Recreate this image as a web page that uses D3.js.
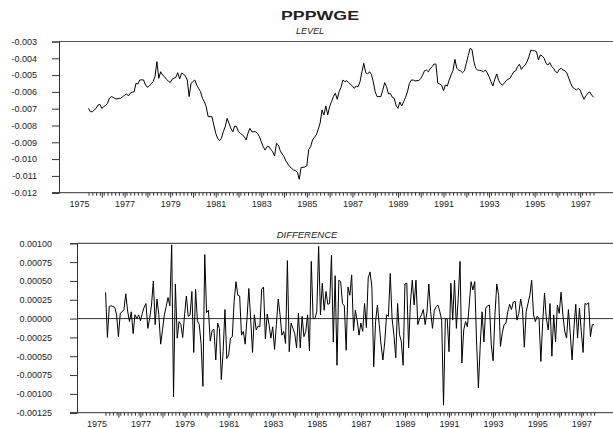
<!DOCTYPE html>
<html>
<head>
<meta charset="utf-8">
<script src="https://cdn.jsdelivr.net/npm/d3@7"></script>
<style>
  html, body { margin: 0; padding: 0; background: #fff; }
  svg { display: block; }
  text { font-family: "Liberation Sans", Arial, Helvetica, sans-serif; fill: #222; }
</style>
</head>
<body>
<svg id="chart" width="613" height="428"></svg>
<script>
// ---- data (monthly, first observation June 1975) ----
const startYear = 1975;
const startMonth = 5; // 0-based: June
const title = "PPPWGE";
const panelTitles = ["LEVEL", "DIFFERENCE"];
const yearLabels = [1975, 1977, 1979, 1981, 1983, 1985, 1987, 1989, 1991, 1993, 1995, 1997];
const levelTicks = [-0.003, -0.004, -0.005, -0.006, -0.007, -0.008, -0.009, -0.010, -0.011, -0.012];
const diffTicks = [0.001, 0.00075, 0.0005, 0.00025, 0, -0.00025, -0.0005, -0.00075, -0.001, -0.00125];

const level = [
-0.00698,-0.00718,-0.00718,-0.00708,-0.00698,-0.00678,-0.00674,-0.00698,-0.00688,-0.00680,
-0.00668,-0.00638,-0.00628,-0.00632,-0.00640,-0.00642,-0.00638,-0.00638,-0.00628,-0.00620,
-0.00612,-0.00624,-0.00608,-0.00602,-0.00599,-0.00549,-0.00553,-0.00529,-0.00528,-0.00529,
-0.00559,-0.00573,-0.00565,-0.00552,-0.00539,-0.00509,-0.00420,-0.00519,-0.00480,-0.00500,
-0.00509,-0.00525,-0.00535,-0.00545,-0.00525,-0.00519,-0.00513,-0.00486,-0.00523,-0.00489,
-0.00493,-0.00505,-0.00529,-0.00628,-0.00549,-0.00539,-0.00529,-0.00559,-0.00579,-0.00599,
-0.00638,-0.00658,-0.00688,-0.00747,-0.00747,-0.00747,-0.00797,-0.00846,-0.00876,-0.00890,
-0.00876,-0.00837,-0.00807,-0.00757,-0.00787,-0.00817,-0.00837,-0.00803,-0.00807,-0.00837,
-0.00847,-0.00856,-0.00866,-0.00886,-0.00846,-0.00817,-0.00837,-0.00837,-0.00837,-0.00847,
-0.00866,-0.00896,-0.00926,-0.00946,-0.00926,-0.00926,-0.00942,-0.00956,-0.00982,-0.00906,
-0.00916,-0.00950,-0.00970,-0.00986,-0.01012,-0.01029,-0.01045,-0.01055,-0.01065,-0.01069,
-0.01078,-0.01120,-0.01049,-0.01049,-0.01047,-0.01040,-0.00942,-0.00926,-0.00886,-0.00870,
-0.00856,-0.00823,-0.00785,-0.00708,-0.00737,-0.00684,-0.00737,-0.00688,-0.00658,-0.00628,
-0.00608,-0.00644,-0.00599,-0.00573,-0.00529,-0.00539,-0.00533,-0.00545,-0.00555,-0.00565,
-0.00579,-0.00565,-0.00570,-0.00540,-0.00480,-0.00430,-0.00486,-0.00493,-0.00480,-0.00495,
-0.00540,-0.00599,-0.00628,-0.00628,-0.00628,-0.00589,-0.00545,-0.00569,-0.00612,-0.00610,
-0.00632,-0.00638,-0.00680,-0.00698,-0.00660,-0.00684,-0.00658,-0.00632,-0.00600,-0.00550,
-0.00530,-0.00529,-0.00535,-0.00533,-0.00533,-0.00520,-0.00500,-0.00474,-0.00470,-0.00480,
-0.00462,-0.00450,-0.00434,-0.00435,-0.00549,-0.00553,-0.00560,-0.00593,-0.00559,-0.00565,
-0.00529,-0.00499,-0.00472,-0.00406,-0.00460,-0.00470,-0.00475,-0.00486,-0.00475,-0.00430,
-0.00385,-0.00341,-0.00348,-0.00420,-0.00460,-0.00470,-0.00472,-0.00474,-0.00480,-0.00470,
-0.00486,-0.00509,-0.00539,-0.00565,-0.00525,-0.00493,-0.00530,-0.00550,-0.00559,-0.00549,
-0.00533,-0.00525,-0.00519,-0.00500,-0.00480,-0.00475,-0.00450,-0.00435,-0.00466,-0.00450,
-0.00440,-0.00420,-0.00390,-0.00351,-0.00355,-0.00355,-0.00361,-0.00410,-0.00380,-0.00386,
-0.00400,-0.00430,-0.00440,-0.00426,-0.00450,-0.00460,-0.00480,-0.00486,-0.00465,-0.00460,
-0.00470,-0.00474,-0.00489,-0.00519,-0.00549,-0.00573,-0.00580,-0.00589,-0.00579,-0.00589,
-0.00618,-0.00644,-0.00624,-0.00608,-0.00600,-0.00618,-0.00632
];

const diff = [
0.00035,-0.00025,0.00016,0.00017,0.00016,0.00015,0.00005,-0.00024,0.00007,0.00009,
0.00012,0.00033,0.00010,-0.00004,0.00009,-0.00020,0.00005,0.00000,0.00005,-0.00003,
0.00007,0.00015,0.00020,-0.00013,0.00000,0.00018,0.00050,-0.00008,0.00026,0.00005,
-0.00034,-0.00015,0.00005,0.00016,0.00028,0.00017,0.00098,-0.00104,0.00046,-0.00026,
-0.00004,-0.00008,-0.00025,0.00005,0.00030,0.00003,0.00005,0.00036,-0.00045,0.00039,
-0.00003,-0.00008,-0.00033,-0.00090,0.00085,0.00008,0.00011,-0.00030,-0.00016,-0.00014,
-0.00055,-0.00006,-0.00013,-0.00081,-0.00044,0.00012,-0.00053,-0.00048,-0.00026,-0.00024,
0.00023,0.00049,0.00031,0.00030,-0.00022,-0.00017,-0.00034,0.00000,0.00040,0.00000,
-0.00045,0.00005,-0.00015,-0.00010,-0.00011,0.00039,0.00042,-0.00027,0.00006,-0.00008,
-0.00026,-0.00011,-0.00041,-0.00008,0.00026,0.00005,-0.00022,-0.00017,-0.00033,0.00077,
-0.00044,-0.00006,-0.00013,-0.00020,-0.00039,0.00007,-0.00039,0.00003,-0.00024,-0.00017,
0.00005,-0.00043,0.00076,0.00000,0.00000,0.00009,0.00096,0.00005,0.00047,0.00011,
0.00036,0.00019,0.00020,0.00084,-0.00031,0.00057,-0.00062,0.00051,0.00049,0.00020,
0.00017,-0.00042,0.00042,0.00031,0.00058,-0.00016,0.00011,-0.00003,-0.00022,-0.00006,
-0.00017,0.00020,-0.00012,0.00054,0.00062,0.00042,-0.00064,-0.00004,0.00018,-0.00008,
-0.00035,-0.00055,-0.00031,0.00005,0.00003,0.00060,0.00000,-0.00022,-0.00052,0.00020,
-0.00021,-0.00030,-0.00062,0.00046,0.00047,-0.00039,0.00022,0.00051,0.00018,0.00051,
-0.00008,0.00000,0.00005,0.00012,-0.00008,0.00009,0.00046,0.00009,-0.00013,0.00011,
0.00016,0.00018,0.00009,-0.00002,-0.00115,0.00000,0.00000,-0.00044,0.00047,-0.00002,
0.00051,-0.00013,0.00027,0.00076,-0.00059,-0.00015,-0.00004,-0.00011,0.00018,0.00049,
0.00038,0.00049,-0.00031,-0.00092,-0.00035,0.00009,-0.00031,0.00014,0.00017,0.00018,
-0.00035,-0.00056,0.00005,0.00046,0.00031,-0.00037,-0.00019,-0.00008,-0.00006,0.00009,
0.00019,0.00012,0.00022,0.00023,-0.00002,0.00007,0.00026,0.00012,-0.00038,0.00009,
0.00020,0.00031,0.00051,0.00005,-0.00004,0.00003,0.00000,-0.00057,-0.00005,0.00034,
0.00000,-0.00015,0.00020,-0.00050,0.00005,-0.00031,0.00018,0.00007,0.00035,0.00005,
-0.00017,-0.00026,0.00012,-0.00020,-0.00055,-0.00013,0.00019,-0.00026,0.00014,-0.00017,
-0.00045,0.00020,0.00019,0.00021,-0.00024,-0.00008,-0.00008
];

// ---- drawing ----
const W = 613, H = 428;
const svg = d3.select("#chart");
svg.append("rect").attr("width", W).attr("height", H).attr("fill", "#fff");

const loc = d3.formatLocale({decimal: ".", thousands: ",", grouping: [3], currency: ["", ""], minus: "-"});
const timeOf = i => startYear + (startMonth + i) / 12;
const xDomain = [1974.12, 1998.44];

svg.append("text")
  .attr("x", 320).attr("y", 19.5)
  .attr("text-anchor", "middle")
  .attr("font-size", 13).attr("font-weight", "bold")
  .attr("textLength", 78).attr("lengthAdjust", "spacingAndGlyphs")
  .text(title);

function panel(cfg) {
  const g = svg.append("g");
  const x = d3.scaleLinear().domain(xDomain).range([cfg.left, W]);
  const y = d3.scaleLinear().domain(cfg.yDomain).range([cfg.bottom, cfg.top]);
  const axisColor = "#333";

  // subtitle
  g.append("text")
    .attr("x", cfg.subX).attr("y", cfg.subY)
    .attr("text-anchor", "middle")
    .attr("font-size", cfg.subSize).attr("font-style", "italic")
    .text(cfg.subtitle);

  // top frame line
  g.append("line")
    .attr("x1", cfg.left).attr("x2", W)
    .attr("y1", y(cfg.yDomain[1])).attr("y2", y(cfg.yDomain[1]))
    .attr("stroke", "#555").attr("stroke-width", 1.2);

  // y axis
  const yAxis = d3.axisLeft(y)
    .tickValues(cfg.yTicks)
    .tickSize(7)
    .tickPadding(cfg.yPad)
    .tickFormat(loc.format(cfg.fmt));
  const ya = g.append("g").attr("transform", `translate(${cfg.left},0)`).call(yAxis);
  ya.select(".domain").attr("stroke", axisColor);
  ya.selectAll(".tick line").attr("stroke", axisColor);
  ya.selectAll("text").attr("font-size", 9).attr("fill", "#222")
    .attr("font-family", "'Liberation Sans', Arial, sans-serif");

  // x axis baseline
  g.append("line")
    .attr("x1", cfg.left - 7).attr("x2", W)
    .attr("y1", cfg.bottom).attr("y2", cfg.bottom)
    .attr("stroke", axisColor).attr("stroke-width", 1);

  // minor ticks every 2 months over data span, major at each January
  const n = cfg.series.length;
  const minorT = d3.range(0, n, 2).map(timeOf);
  const majorT = d3.range(Math.ceil(timeOf(0)), Math.floor(timeOf(n - 1)) + 1);
  const minorAxis = d3.axisBottom(x).tickValues(minorT).tickSize(3).tickFormat("");
  const majorAxis = d3.axisBottom(x).tickValues(majorT).tickSize(5).tickFormat("");
  [minorAxis, majorAxis].forEach(ax => {
    const a = g.append("g").attr("transform", `translate(0,${cfg.bottom})`).call(ax);
    a.select(".domain").remove();
    a.selectAll(".tick line").attr("stroke", axisColor);
  });

  // year labels
  const labAxis = d3.axisBottom(x).tickValues(yearLabels).tickSize(0).tickPadding(8)
    .tickFormat(d3.format("d"));
  const la = g.append("g").attr("transform", `translate(0,${cfg.bottom})`).call(labAxis);
  la.select(".domain").remove();
  la.selectAll("text").attr("font-size", 9).attr("fill", "#222")
    .attr("font-family", "'Liberation Sans', Arial, sans-serif");

  // zero line
  if (cfg.zero) {
    g.append("line")
      .attr("x1", cfg.left).attr("x2", W)
      .attr("y1", y(0)).attr("y2", y(0))
      .attr("stroke", axisColor).attr("stroke-width", 1);
  }

  // series
  const line = d3.line().x((d, i) => x(timeOf(i))).y(d => y(d));
  g.append("path")
    .datum(cfg.series)
    .attr("d", line)
    .attr("fill", "none")
    .attr("stroke", "#000")
    .attr("stroke-width", 1)
    .attr("stroke-linejoin", "round");
}

panel({
  series: level, left: 59, top: 41.5, bottom: 192.7,
  yDomain: [-0.012, -0.003], yTicks: levelTicks, fmt: ".3f", yPad: 15,
  subtitle: panelTitles[0], subX: 310, subY: 34, subSize: 9, zero: false
});

panel({
  series: diff, left: 77, top: 243.3, bottom: 412.7,
  yDomain: [-0.00125, 0.001], yTicks: diffTicks, fmt: ".5f", yPad: 18,
  subtitle: panelTitles[1], subX: 307, subY: 237.5, subSize: 9.5, zero: true
});
</script>
</body>
</html>
